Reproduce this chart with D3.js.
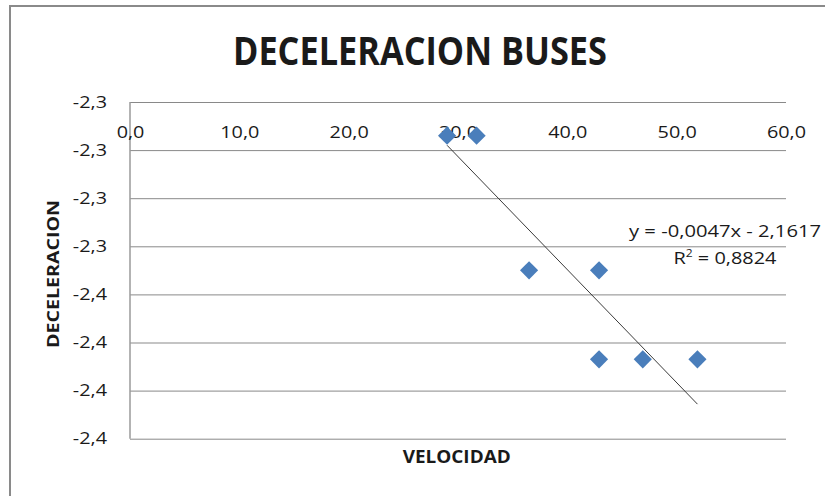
<!DOCTYPE html>
<html>
<head>
<meta charset="utf-8">
<script src="https://cdn.jsdelivr.net/npm/d3@7/dist/d3.min.js"></script>
<style>
  html, body { margin: 0; padding: 0; background: #fff; overflow: hidden; }
  svg { display: block; }
  text { font-family: "Open Sans", "Liberation Sans", sans-serif; fill: #1a1a1a; }
</style>
</head>
<body>
<svg id="chart" width="825" height="496"></svg>
<script>
// Bus deceleration against speed
const velocidad = [29.0, 31.7, 36.5, 42.9, 42.9, 46.9, 51.9];
const deceleracion = [-2.294, -2.294, -2.350, -2.350, -2.387, -2.387, -2.387];
const xTicks = [0, 10, 20, 30, 40, 50, 60];
const yTicks = [-2.28, -2.30, -2.32, -2.34, -2.36, -2.38, -2.40, -2.42];
// Linear trendline as reported on the chart
const trendSlope = -0.0047;
const trendIntercept = -2.1617;
const trendR2 = 0.8824;

const points = velocidad.map((v, i) => ({ x: v, y: deceleracion[i] }));

const locale = d3.formatLocale({
  decimal: ",", thousands: ".", grouping: [3], currency: ["", " €"], minus: "-"
});
const fmt1 = locale.format(".1f");
const fmt4 = locale.format(".4f");

const svg = d3.select("#chart");

// Outer chart frame (runs past the right and bottom edges)
svg.append("rect")
  .attr("x", 10).attr("y", 6)
  .attr("width", 900).attr("height", 600)
  .attr("fill", "#fff")
  .attr("stroke", "#8a8a8a")
  .attr("stroke-width", 2);

const plot = { left: 130, right: 786, top: 102, bottom: 438.7 };

const x = d3.scaleLinear().domain([0, 60]).range([plot.left, plot.right]);
const y = d3.scaleLinear().domain([-2.28, -2.42]).range([plot.top, plot.bottom]);

// Stretch tick text horizontally a little, like the wide axis font
function widen(sel, factor) {
  sel.each(function () {
    const w = this.getComputedTextLength();
    d3.select(this).attr("textLength", w * factor).attr("lengthAdjust", "spacingAndGlyphs");
  });
}

// Horizontal gridlines with value labels
const yAxis = svg.append("g")
  .attr("transform", `translate(${plot.left},0)`)
  .call(d3.axisLeft(y).tickValues(yTicks).tickFormat(fmt1)
    .tickSizeInner(-(plot.right - plot.left)).tickSizeOuter(0).tickPadding(23));
yAxis.select(".domain").remove();
yAxis.selectAll(".tick line").attr("stroke", "#898989").attr("stroke-width", 1);
yAxis.selectAll(".tick text")
  .attr("font-size", 16.5)
  .attr("font-family", "Open Sans, sans-serif")
  .attr("fill", "#1a1a1a");
widen(yAxis.selectAll(".tick text"), 1.2);

// Vertical axis line
svg.append("line")
  .attr("x1", plot.left).attr("x2", plot.left)
  .attr("y1", plot.top).attr("y2", plot.bottom)
  .attr("stroke", "#9a9a9a").attr("stroke-width", 1.5);

// Speed axis labels sit just under the top line
const xAxis = svg.append("g")
  .attr("transform", `translate(0,${plot.top})`)
  .call(d3.axisBottom(x).tickValues(xTicks).tickFormat(fmt1).tickSize(0).tickPadding(24));
xAxis.select(".domain").remove();
xAxis.selectAll(".tick text")
  .attr("font-size", 16.5)
  .attr("font-family", "Open Sans, sans-serif")
  .attr("fill", "#1a1a1a");
widen(xAxis.selectAll(".tick text"), 1.2);

// Trendline across the data range
const xExtent = d3.extent(velocidad);
const trendPts = xExtent.map(v => ({ x: v, y: trendSlope * v + trendIntercept }));
svg.append("path")
  .datum(trendPts)
  .attr("d", d3.line().x(d => x(d.x)).y(d => y(d.y)))
  .attr("fill", "none")
  .attr("stroke", "#3a3a3a")
  .attr("stroke-width", 1);

// Data markers (diamonds)
const diamond = d3.symbol().type(d3.symbolSquare).size(165);
svg.append("g").selectAll("path")
  .data(points)
  .join("path")
  .attr("d", diamond)
  .attr("transform", d => `translate(${x(d.x)},${y(d.y)}) rotate(45)`)
  .attr("fill", "#4a7ebb");

// Trendline equation and R²
const eqText = `y = ${fmt4(trendSlope)}x - ${fmt4(Math.abs(trendIntercept))}`;
svg.append("text")
  .attr("x", 725).attr("y", 237)
  .attr("text-anchor", "middle")
  .attr("font-size", 16.5)
  .attr("textLength", 192).attr("lengthAdjust", "spacingAndGlyphs")
  .text(eqText);
const r2 = svg.append("text")
  .attr("x", 725).attr("y", 264)
  .attr("text-anchor", "middle")
  .attr("font-size", 16.5)
  .attr("textLength", 103).attr("lengthAdjust", "spacingAndGlyphs");
r2.append("tspan").text("R");
r2.append("tspan").attr("font-size", 10).attr("dy", -7).text("2");
r2.append("tspan").attr("dy", 7).text(` = ${fmt4(trendR2)}`);

// Title
svg.append("text")
  .attr("x", 420).attr("y", 65)
  .attr("text-anchor", "middle")
  .attr("font-size", 40)
  .attr("font-weight", "bold")
  .attr("font-family", "Liberation Sans Narrow, Open Sans, sans-serif")
  .attr("textLength", 374).attr("lengthAdjust", "spacingAndGlyphs")
  .text("DECELERACION BUSES");

// Axis titles
svg.append("text")
  .attr("x", 456.7).attr("y", 463)
  .attr("text-anchor", "middle")
  .attr("font-size", 17)
  .attr("font-weight", "bold")
  .attr("textLength", 108).attr("lengthAdjust", "spacingAndGlyphs")
  .text("VELOCIDAD");

svg.append("text")
  .attr("transform", "translate(59,274) rotate(-90)")
  .attr("text-anchor", "middle")
  .attr("font-size", 15.5)
  .attr("font-weight", "bold")
  .attr("textLength", 148).attr("lengthAdjust", "spacingAndGlyphs")
  .text("DECELERACION");
</script>
</body>
</html>
